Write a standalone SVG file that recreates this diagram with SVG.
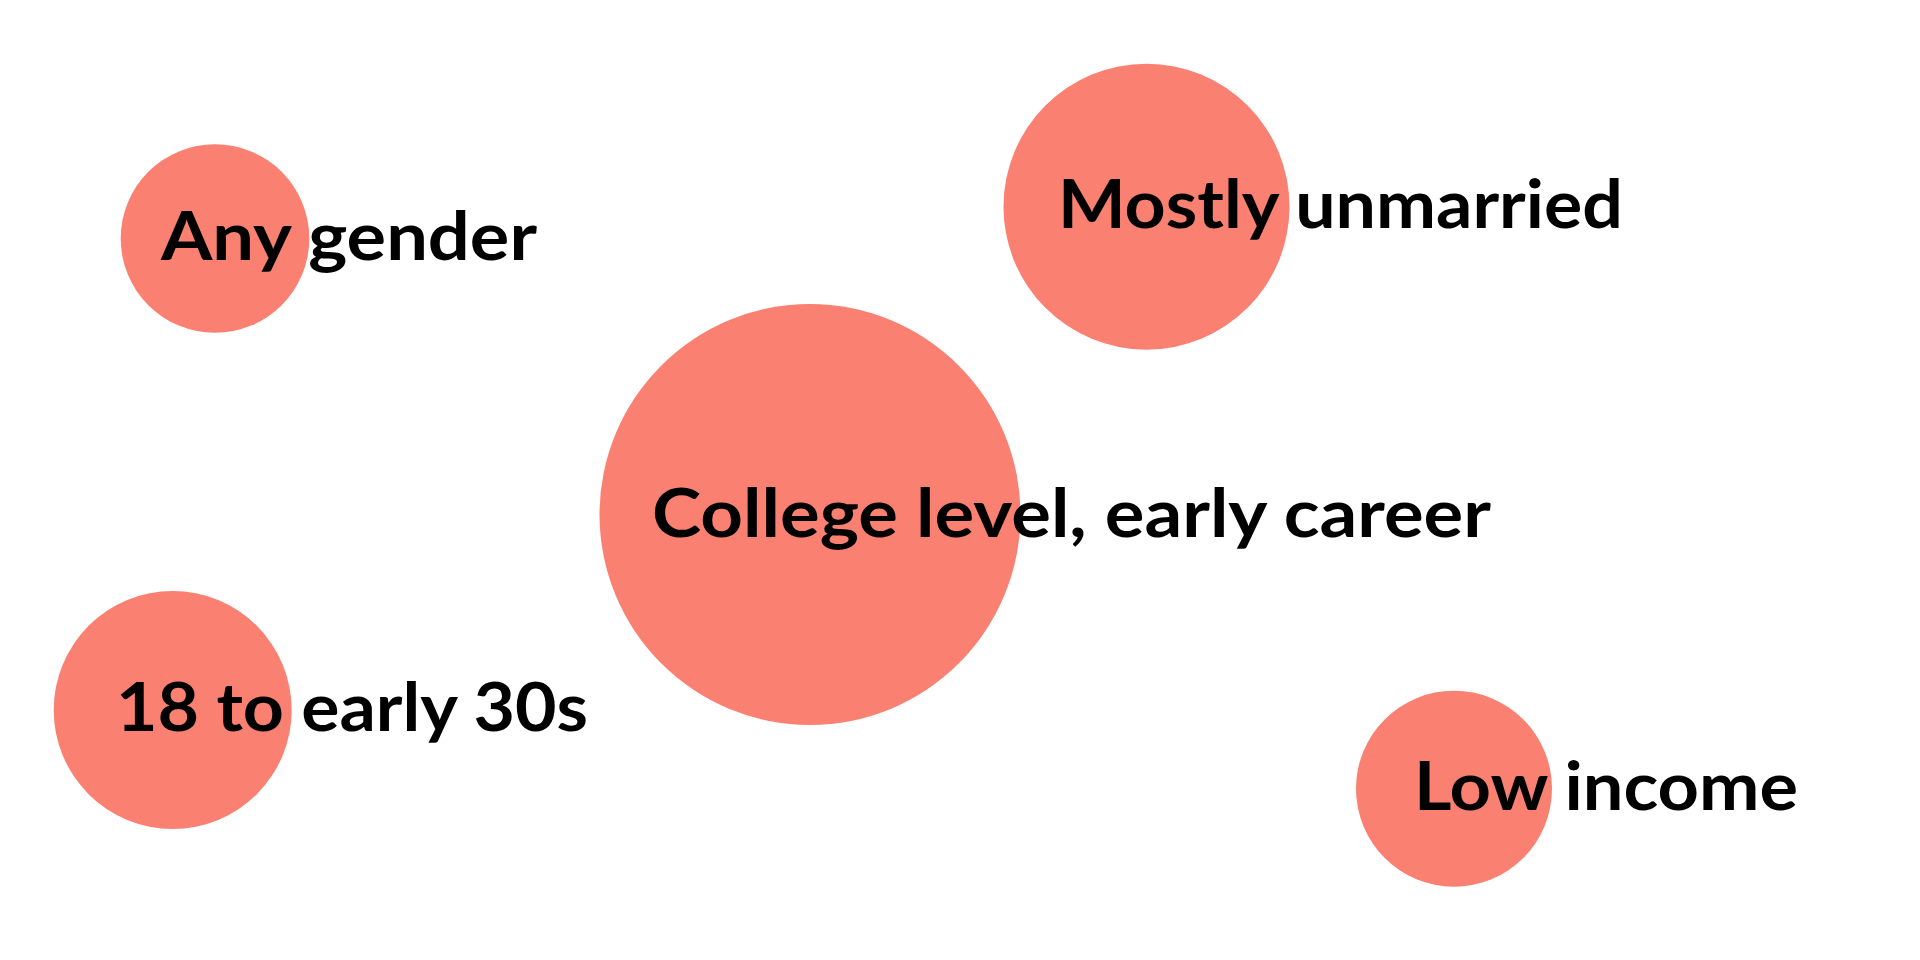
<svg xmlns="http://www.w3.org/2000/svg" width="1920" height="960" viewBox="0 0 1920 960">
<style>
.bubble{fill:#FA8072;}
.lbl{font-family:Lato,"Liberation Sans",Arial,sans-serif;font-weight:700;font-size:67px;fill:#000;}
</style>
<rect width="1920" height="960" fill="#fff"/>
<g id="node-gender">
<circle class="bubble" cx="215" cy="238.5" r="94.3"/>
<text class="lbl" x="161" y="260" textLength="376" lengthAdjust="spacingAndGlyphs">Any gender</text>
</g>
<g id="node-marital">
<circle class="bubble" cx="1146.5" cy="206.7" r="143"/>
<text class="lbl" x="1058" y="228" textLength="565" lengthAdjust="spacingAndGlyphs">Mostly unmarried</text>
</g>
<g id="node-education">
<circle class="bubble" cx="810" cy="514.5" r="210.5"/>
<text class="lbl" x="652" y="537" textLength="839" lengthAdjust="spacingAndGlyphs">College level, early career</text>
</g>
<g id="node-age">
<circle class="bubble" cx="172.7" cy="710" r="119"/>
<text class="lbl" x="116" y="731" textLength="472" lengthAdjust="spacingAndGlyphs">18 to early 30s</text>
</g>
<g id="node-income">
<circle class="bubble" cx="1454" cy="788.7" r="98"/>
<text class="lbl" x="1414" y="810" textLength="384" lengthAdjust="spacingAndGlyphs">Low income</text>
</g>
<g id="connectors"></g>
</svg>
